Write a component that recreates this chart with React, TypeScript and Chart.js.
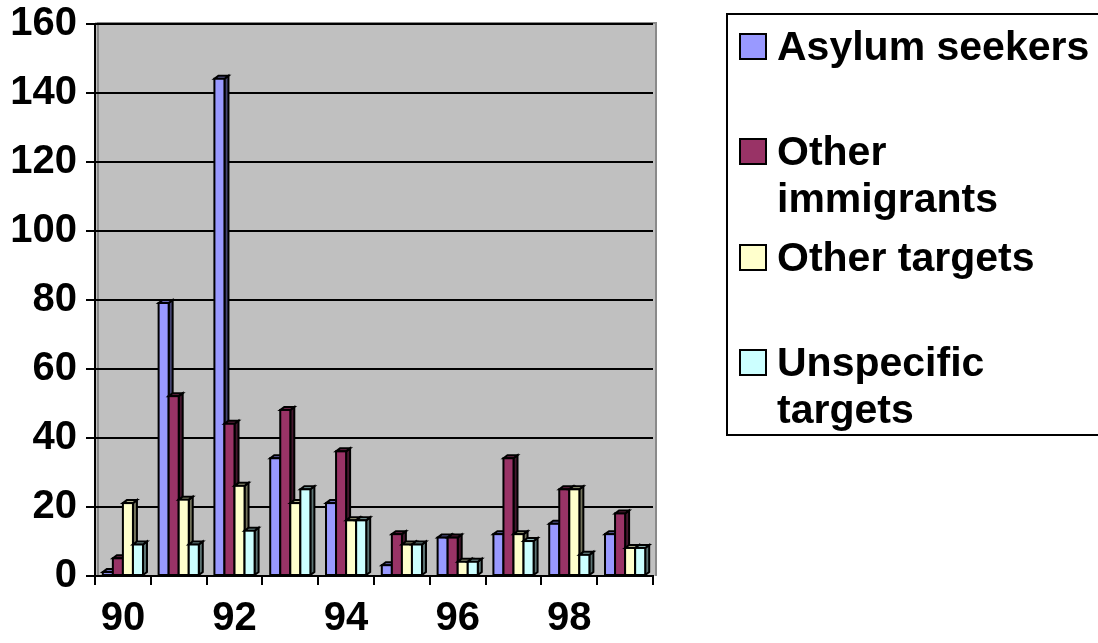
import React, { useEffect, useRef } from "react";
import { Chart, registerables } from "chart.js";

Chart.register(...registerables);

const categories = ["90", "91", "92", "93", "94", "95", "96", "97", "98", "99"];
const asylumSeekers = [2, 80, 145, 35, 22, 4, 12, 13, 16, 13];
const otherImmigrants = [6, 53, 45, 49, 37, 13, 12, 35, 26, 19];
const otherTargets = [22, 23, 27, 22, 17, 10, 5, 13, 26, 9];
const unspecificTargets = [10, 10, 14, 26, 17, 10, 5, 11, 7, 9];
const seriesNames = ["Asylum seekers", "Other immigrants", "Other targets", "Unspecific targets"];
const seriesColors = ["#9999FF", "#993366", "#FFFFCC", "#CCFFFF"];
const yMin = 0;
const yMax = 160;
const yStep = 20;

const FONT = "'Liberation Sans', Arial, Helvetica, sans-serif";

function shade(hex: string, f: number): string {
  const n = parseInt(hex.slice(1), 16);
  const r = Math.round(((n >> 16) & 255) * f);
  const g = Math.round(((n >> 8) & 255) * f);
  const b = Math.round((n & 255) * f);
  return `rgb(${r},${g},${b})`;
}

const wallPlugin = {
  id: "wall",
  beforeDraw(chart: any) {
    const { ctx, chartArea } = chart;
    const { left, right, top, bottom } = chartArea;
    ctx.save();
    ctx.fillStyle = "#C0C0C0";
    ctx.fillRect(left, top - 2, right - left + 4, bottom - top + 2);
    ctx.strokeStyle = "#8a8a8a";
    ctx.lineWidth = 2;
    ctx.beginPath();
    ctx.moveTo(left + 3, bottom);
    ctx.lineTo(left + 3, top - 1);
    ctx.lineTo(right + 3, top - 1);
    ctx.lineTo(right + 3, bottom);
    ctx.stroke();
    ctx.restore();
  },
};

const bars3dPlugin = {
  id: "bars3d",
  afterDatasetsDraw(chart: any) {
    const { ctx } = chart;
    const dx = 4;
    const dy = 3;
    ctx.save();
    ctx.lineWidth = 2;
    ctx.strokeStyle = "#000";
    ctx.lineJoin = "miter";
    const n = chart.data.labels.length;
    for (let i = 0; i < n; i++) {
      for (let d = 0; d < chart.data.datasets.length; d++) {
        const meta = chart.getDatasetMeta(d);
        const el: any = meta.data[i];
        if (!el) continue;
        const p = el.getProps(["x", "y", "base", "width"], true);
        const l = p.x - p.width / 2;
        const r = p.x + p.width / 2;
        const bottom = p.base;
        const top = Math.min(p.y + dy, bottom - 1);
        const col = seriesColors[d];
        // side
        ctx.fillStyle = shade(col, 0.45);
        ctx.beginPath();
        ctx.moveTo(r, top);
        ctx.lineTo(r + dx, top - dy);
        ctx.lineTo(r + dx, bottom - dy);
        ctx.lineTo(r, bottom);
        ctx.closePath();
        ctx.fill();
        ctx.stroke();
        // top
        ctx.fillStyle = shade(col, 0.7);
        ctx.beginPath();
        ctx.moveTo(l, top);
        ctx.lineTo(l + dx, top - dy);
        ctx.lineTo(r + dx, top - dy);
        ctx.lineTo(r, top);
        ctx.closePath();
        ctx.fill();
        ctx.stroke();
        // front
        ctx.fillStyle = col;
        ctx.fillRect(l, top, r - l, bottom - top);
        ctx.strokeRect(l, top, r - l, bottom - top);
      }
    }
    ctx.restore();
  },
};

export default function App() {
  const ref = useRef<HTMLCanvasElement | null>(null);

  useEffect(() => {
    if (!ref.current) return;
    const series = [asylumSeekers, otherImmigrants, otherTargets, unspecificTargets];
    const chart = new Chart(ref.current, {
      type: "bar",
      data: {
        labels: categories,
        datasets: series.map((values, k) => ({
          label: seriesNames[k],
          data: values,
          backgroundColor: "rgba(0,0,0,0)",
          borderWidth: 0,
          categoryPercentage: 0.72,
          barPercentage: 1,
        })),
      },
      options: {
        animation: false,
        responsive: true,
        maintainAspectRatio: false,
        devicePixelRatio: 1,
        layout: { padding: { left: 0, top: 24, right: 445, bottom: 0 } },
        plugins: {
          legend: { display: false },
          tooltip: { enabled: false },
        },
        scales: {
          x: {
            afterFit: (s: any) => {
              s.height = 67;
              s.paddingLeft = 0;
              s.paddingRight = 0;
            },
            grid: {
              drawOnChartArea: false,
              drawTicks: true,
              tickLength: 9,
              color: "#000",
              lineWidth: 2,
            },
            border: { display: true, color: "#000", width: 2 },
            ticks: {
              autoSkip: false,
              maxRotation: 0,
              padding: 10,
              color: "#000",
              font: { family: FONT, size: 40, weight: "bold" },
              callback: (_v: any, idx: number) => (idx % 2 === 0 ? categories[idx] : ""),
            },
          },
          y: {
            min: yMin,
            max: yMax,
            afterFit: (s: any) => {
              s.width = 95;
              s.paddingTop = 0;
              s.paddingBottom = 0;
            },
            grid: {
              color: "#000",
              lineWidth: 2,
              tickLength: 9,
            },
            border: { display: true, color: "#000", width: 2 },
            ticks: {
              stepSize: yStep,
              padding: 9,
              color: "#000",
              font: { family: FONT, size: 40, weight: "bold" },
            },
          },
        },
      },
      plugins: [wallPlugin, bars3dPlugin],
    });
    return () => chart.destroy();
  }, []);

  return (
    <div
      style={{
        position: "absolute",
        left: 0,
        top: 0,
        width: 1098,
        height: 643,
        overflow: "hidden",
        background: "#fff",
      }}
    >
      <div style={{ position: "absolute", left: 0, top: 0, width: 1098, height: 643 }}>
        <canvas ref={ref} />
      </div>
      <div
        style={{
          position: "absolute",
          left: 726,
          top: 13,
          width: 400,
          height: 423,
          border: "2px solid #000",
          boxSizing: "border-box",
        }}
      />
      {seriesNames.map((name, k) => (
        <div
          key={name}
          style={{
            position: "absolute",
            left: 739,
            top: 22.5 + k * 105.6,
            display: "flex",
            alignItems: "flex-start",
          }}
        >
          <div
            style={{
              width: 28,
              height: 27,
              marginTop: 10,
              background: seriesColors[k],
              border: "2px solid #000",
              boxSizing: "border-box",
              flex: "none",
            }}
          />
          <div
            style={{
              marginLeft: 10,
              width: 330,
              fontFamily: FONT,
              fontWeight: "bold",
              fontSize: 41,
              lineHeight: "46.7px",
              color: "#000",
            }}
          >
            {name}
          </div>
        </div>
      ))}
    </div>
  );
}
